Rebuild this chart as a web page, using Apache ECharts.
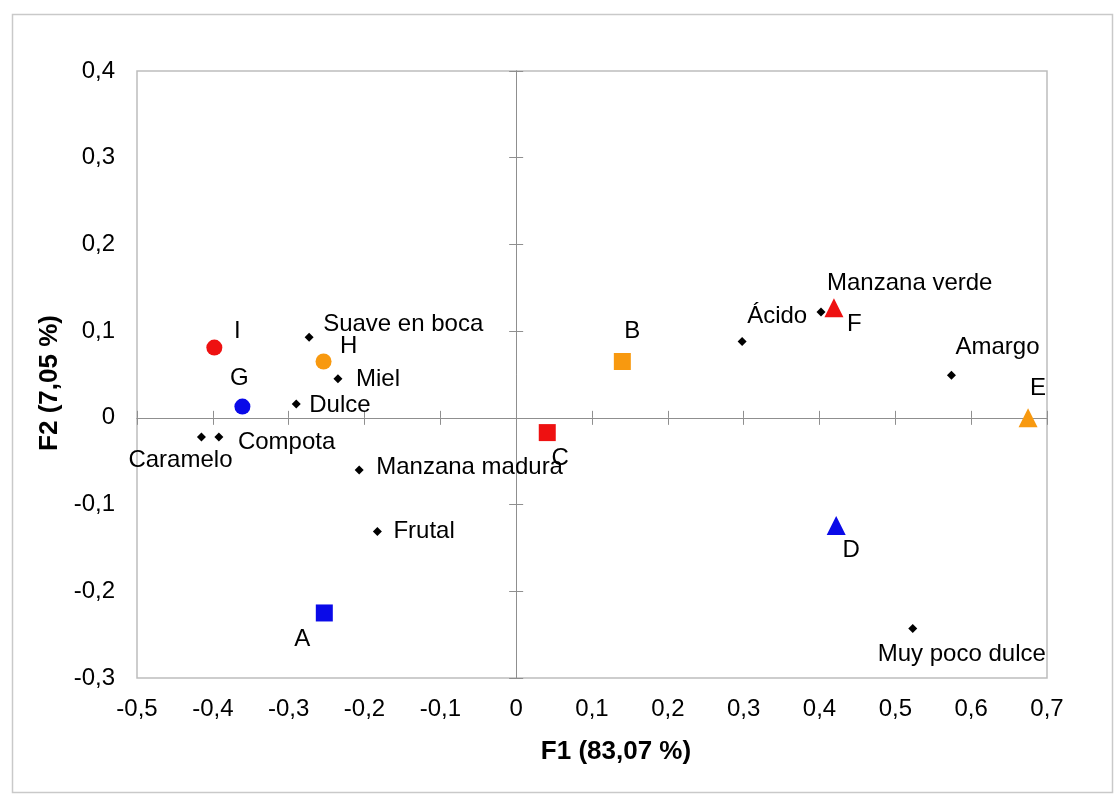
<!DOCTYPE html>
<html>
<head>
<meta charset="utf-8">
<script src="https://cdn.jsdelivr.net/npm/echarts@6/dist/echarts.min.js"></script>
<style>
  html, body { margin: 0; padding: 0; background: #fff; }
  #chart { width: 1114px; height: 794px; }
</style>
</head>
<body>
<div id="chart"></div>
<script>
// ---- Data ----
const productNames = ['A', 'B', 'C', 'D', 'E', 'F', 'G', 'H', 'I'];
const productF1 = [-0.253, 0.140, 0.041, 0.422, 0.675, 0.419, -0.361, -0.254, -0.398];
const productF2 = [-0.225, 0.065, -0.017, -0.124, 0.000, 0.127, 0.013, 0.065, 0.081];

const attributeNames = ['Suave en boca', 'Miel', 'Dulce', 'Caramelo', 'Compota', 'Manzana madura',
  'Frutal', 'Ácido', 'Manzana verde', 'Amargo', 'Muy poco dulce'];
const attributeF1 = [-0.273, -0.235, -0.290, -0.415, -0.392, -0.207, -0.183, 0.298, 0.402, 0.574, 0.523];
const attributeF2 = [0.093, 0.045, 0.016, -0.022, -0.022, -0.060, -0.131, 0.088, 0.122, 0.049, -0.243];

const xAxisRange = { min: -0.5, max: 0.7, interval: 0.1 };
const yAxisRange = { min: -0.3, max: 0.4, interval: 0.1 };
const xTitle = 'F1 (83,07 %)';
const yTitle = 'F2 (7,05 %)';

// ---- Styles ----
const RED = '#ee1111', BLUE = '#0a0ae8', ORANGE = '#f8990f';
const productStyle = {
  A: ['rect', BLUE, 17], B: ['rect', ORANGE, 17], C: ['rect', RED, 17],
  D: ['triangle', BLUE, 19], E: ['triangle', ORANGE, 19], F: ['triangle', RED, 19],
  G: ['circle', BLUE, 16], H: ['circle', ORANGE, 16], I: ['circle', RED, 16]
};
// [align, dx, dy] from symbol centre to label anchor
const labelLayout = {
  A: ['center', -22, 26], B: ['center', 10, -30], C: ['center', 13, 26],
  D: ['center', 15, 25], E: ['center', 10, -29], F: ['left', 13, 17],
  G: ['center', -3, -28], H: ['center', 25, -15], I: ['center', 23, -16],
  'Suave en boca': ['left', 14, -13], 'Miel': ['left', 18, 1], 'Dulce': ['left', 13, 1],
  'Caramelo': ['center', -21, 23], 'Compota': ['left', 19, 5], 'Manzana madura': ['left', 17, -3],
  'Frutal': ['left', 16, 0], 'Ácido': ['left', 5, -25], 'Manzana verde': ['left', 6, -29],
  'Amargo': ['left', 4, -28], 'Muy poco dulce': ['center', 49, 26]
};
const FONT = "'Liberation Sans', Arial, Helvetica, sans-serif";

function lbl(name) {
  const l = labelLayout[name];
  return {
    show: true, position: 'inside', align: l[0], verticalAlign: 'middle',
    offset: [l[1], l[2]], formatter: name, color: '#000', opacity: 1, fontSize: 24, fontFamily: FONT
  };
}

const productData = productNames.map((n, i) => ({
  name: n, value: [productF1[i], productF2[i]],
  symbol: productStyle[n][0], symbolSize: productStyle[n][2],
  itemStyle: { color: productStyle[n][1], opacity: 1 }, label: lbl(n)
}));
const attributeData = attributeNames.map((n, i) => ({
  name: n, value: [attributeF1[i], attributeF2[i]], label: lbl(n)
}));

function fmt(v) { return (Math.round(v * 10) / 10).toString().replace('.', ','); }

const axisGray = '#8f8f8f';
function lineAxis(base, inside) {
  return Object.assign({}, base, {
    type: 'value', position: base.position,
    axisLine: { show: true, onZero: true, lineStyle: { color: axisGray, width: 1 } },
    axisTick: { show: true, inside: inside, length: 7, lineStyle: { color: axisGray } },
    axisLabel: { show: false }, splitLine: { show: false }
  });
}

const chart = echarts.init(document.getElementById('chart'), null, { renderer: 'canvas' });
chart.setOption({
  backgroundColor: '#ffffff',
  animation: false,
  textStyle: { fontFamily: FONT },
  graphic: [{
    type: 'rect', left: 10, top: 12, silent: true,
    shape: { width: 1100, height: 778 },
    style: { fill: 'none', stroke: '#c9c9c9', lineWidth: 1.5 }
  }],
  grid: { left: 137, top: 71, right: 67, bottom: 116, show: true, borderColor: '#bdbdbd', borderWidth: 1.5, containLabel: false },
  xAxis: [
    {
      type: 'value', position: 'bottom', min: xAxisRange.min, max: xAxisRange.max, interval: xAxisRange.interval,
      axisLine: { show: false, onZero: false }, axisTick: { show: false }, splitLine: { show: false },
      axisLabel: { formatter: fmt, fontSize: 24, color: '#000', margin: 19, fontFamily: FONT },
      name: xTitle, nameLocation: 'middle', nameGap: 61,
      nameTextStyle: { fontSize: 26, fontWeight: 'bold', color: '#000', fontFamily: FONT, padding: [0, 0, 0, 48] }
    },
    lineAxis({ position: 'bottom', min: xAxisRange.min, max: xAxisRange.max, interval: xAxisRange.interval }, false),
    lineAxis({ position: 'bottom', min: xAxisRange.min, max: xAxisRange.max, interval: xAxisRange.interval }, true)
  ],
  yAxis: [
    {
      type: 'value', position: 'left', min: yAxisRange.min, max: yAxisRange.max, interval: yAxisRange.interval,
      axisLine: { show: false, onZero: false }, axisTick: { show: false }, splitLine: { show: false },
      axisLabel: { formatter: fmt, fontSize: 24, color: '#000', margin: 22, fontFamily: FONT },
      name: yTitle, nameLocation: 'middle', nameGap: 60, nameRotate: 90,
      nameTextStyle: { fontSize: 26, fontWeight: 'bold', color: '#000', fontFamily: FONT, padding: [0, 17, 0, 0] }
    },
    lineAxis({ position: 'left', min: yAxisRange.min, max: yAxisRange.max, interval: yAxisRange.interval }, false),
    lineAxis({ position: 'left', min: yAxisRange.min, max: yAxisRange.max, interval: yAxisRange.interval }, true)
  ],
  series: [
    {
      name: 'Atributos', type: 'scatter', xAxisIndex: 0, yAxisIndex: 0,
      symbol: 'diamond', symbolSize: 9, itemStyle: { color: '#000', opacity: 1 },
      data: attributeData, z: 3
    },
    {
      name: 'Productos', type: 'scatter', xAxisIndex: 0, yAxisIndex: 0,
      itemStyle: { opacity: 1 },
      data: productData, z: 4
    }
  ]
});
</script>
</body>
</html>
